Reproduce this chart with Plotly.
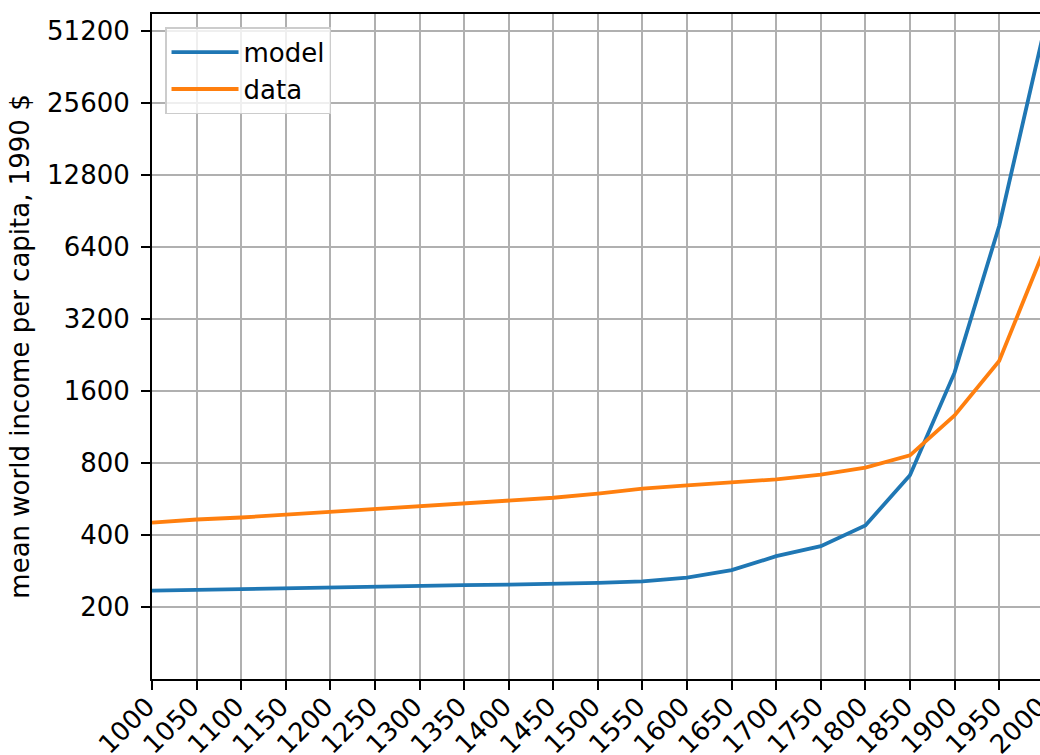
import plotly.graph_objects as go

years = list(range(1000, 2001, 50))
model = [234, 236, 237, 239, 241, 244, 245, 247, 248, 249, 252, 256, 265, 285,
         326, 359, 438, 711, 1906, 7820, 50500]
data = [450, 464, 473, 486, 498, 511, 528, 540, 554, 572, 595, 624, 644, 661,
        683, 714, 764, 860, 1264, 2132, 6150]
y_ticks = [200, 400, 800, 1600, 3200, 6400, 12800, 25600, 51200]
y_tick_text = [str(v) for v in y_ticks]
x_ticks = years
x_tick_text = [str(v) for v in years]

FONT = "DejaVu Sans"
FS = 26

fig = go.Figure()
fig.add_trace(go.Scatter(x=years, y=model, mode="lines", name="model",
                         line=dict(color="#1f77b4", width=3.8)))
fig.add_trace(go.Scatter(x=years, y=data, mode="lines", name="data",
                         line=dict(color="#ff7f0e", width=3.8)))

fig.update_layout(
    width=1044, height=755,
    margin=dict(l=152, r=0, t=14, b=76),
    paper_bgcolor="white", plot_bgcolor="white",
    font=dict(family=FONT, size=FS, color="black"),
    showlegend=True,
    legend=dict(x=0.0146, y=0.98, xanchor="left", yanchor="top",
                bgcolor="rgba(255,255,255,0.8)", bordercolor="#cccccc",
                borderwidth=1.5, font=dict(family=FONT, size=FS),
                itemwidth=67, tracegroupgap=0),
    xaxis=dict(
        range=[1000, 2000.3], tickmode="array", tickvals=x_ticks, ticktext=x_tick_text,
        tickangle=-45, ticks="outside", ticklen=9, tickwidth=2, tickcolor="black",
        showline=True, linecolor="black", linewidth=2, mirror=True,
        showgrid=True, gridcolor="#b0b0b0", gridwidth=2, zeroline=False,
        tickfont=dict(family=FONT, size=FS), automargin=False,
        ticklabelstandoff=-9, ticklabelshift=-5, ticklabeloverflow="allow",
    ),
    yaxis=dict(
        type="log", range=[2.0, 4.779], tickmode="array", tickvals=y_ticks,
        ticktext=y_tick_text, ticks="outside", ticklen=9, tickwidth=2, tickcolor="black",
        showline=True, linecolor="black", linewidth=2, mirror=False,
        showgrid=True, gridcolor="#b0b0b0", gridwidth=2, zeroline=False,
        tickfont=dict(family=FONT, size=FS), ticklabelstandoff=6, automargin=False,
        title=dict(text="mean world income per capita, 1990 $",
                   font=dict(family=FONT, size=FS), standoff=10),
    ),
)

fig.write_html(
    "out.html",
    config={"displayModeBar": False},
    post_script="document.body.style.margin='0';document.body.style.overflow='hidden';",
)
